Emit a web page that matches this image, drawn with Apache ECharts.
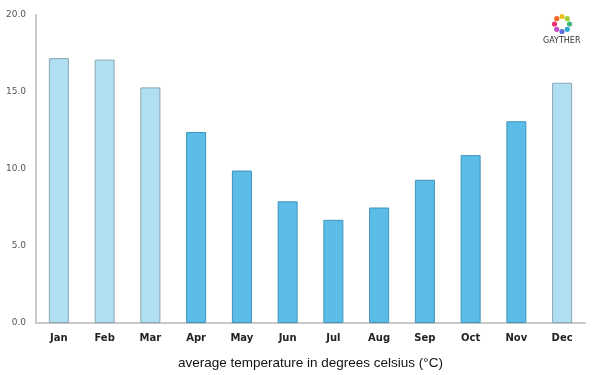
<!DOCTYPE html>
<html>
<head>
<meta charset="utf-8">
<script src="https://cdn.jsdelivr.net/npm/echarts@6/dist/echarts.min.js"></script>
<style>
html, body { margin: 0; padding: 0; background: #fff; }
#chart { width: 600px; height: 375px; }
</style>
</head>
<body>
<div id="chart"></div>
<script>
// 月份与平均气温
var months = ['Jan', 'Feb', 'Mar', 'Apr', 'May', 'Jun', 'Jul', 'Aug', 'Sep', 'Oct', 'Nov', 'Dec'];
var temps = [17.2, 17.1, 15.3, 12.4, 9.9, 7.9, 6.7, 7.5, 9.3, 10.9, 13.1, 15.6];
var lightMonths = ['Jan', 'Feb', 'Mar', 'Dec'];
var yTicks = [0, 5, 10, 15, 20];

var chart = echarts.init(document.getElementById('chart'));

// logo ring colors
var ringColors = ['#f0c020', '#9bd23c', '#3cb878', '#2aa7d8', '#5b6fd6', '#c24fc8', '#e8336f', '#f26a2e'];
var logo = [];
for (var i = 0; i < ringColors.length; i++) {
	var a = i / ringColors.length * Math.PI * 2 - Math.PI / 2;
	logo.push({
		type: 'circle',
		shape: { cx: 562 + Math.cos(a) * 7.5, cy: 24 + Math.sin(a) * 7.5, r: 2.6 },
		style: { fill: ringColors[i] }
	});
}
logo.push({
	type: 'text',
	left: 543, top: 37,
	style: { text: 'GAYTHER', fill: '#333', font: '8px "DejaVu Sans"' }
});

var option = {
	animation: false,
	grid: { left: 36, right: 15, top: 15, bottom: 51 },
	xAxis: {
		type: 'category',
		data: months,
		axisLine: { lineStyle: { color: '#c8c8c8', width: 2 } },
		axisTick: { show: false },
		axisLabel: { color: '#222', fontSize: 10, fontFamily: 'DejaVu Sans', fontWeight: 'bold', margin: 10 },
		name: 'average temperature in degrees celsius (°C)',
		nameLocation: 'middle',
		nameGap: 33,
		nameTextStyle: { color: '#111', fontSize: 13.5, fontFamily: 'Liberation Sans' }
	},
	yAxis: {
		type: 'value',
		min: yTicks[0],
		max: yTicks[yTicks.length - 1],
		interval: 5,
		axisLine: { show: true, lineStyle: { color: '#c8c8c8', width: 2 } },
		axisTick: { show: false },
		splitLine: { show: false },
		axisLabel: {
			color: '#555', fontSize: 9, fontFamily: 'DejaVu Sans', margin: 10,
			formatter: function (v) { return v.toFixed(1); }
		}
	},
	series: [{
		type: 'bar',
		barWidth: 20,
		data: temps.map(function (v, i) {
			var light = lightMonths.indexOf(months[i]) >= 0;
			return {
				value: v,
				itemStyle: {
					color: light ? '#b0dff1' : '#5bbde7',
					borderColor: light ? '#8aa6b3' : '#3f94bb',
					borderWidth: 1
				}
			};
		})
	}],
	graphic: logo
};
chart.setOption(option);
</script>
</body>
</html>
